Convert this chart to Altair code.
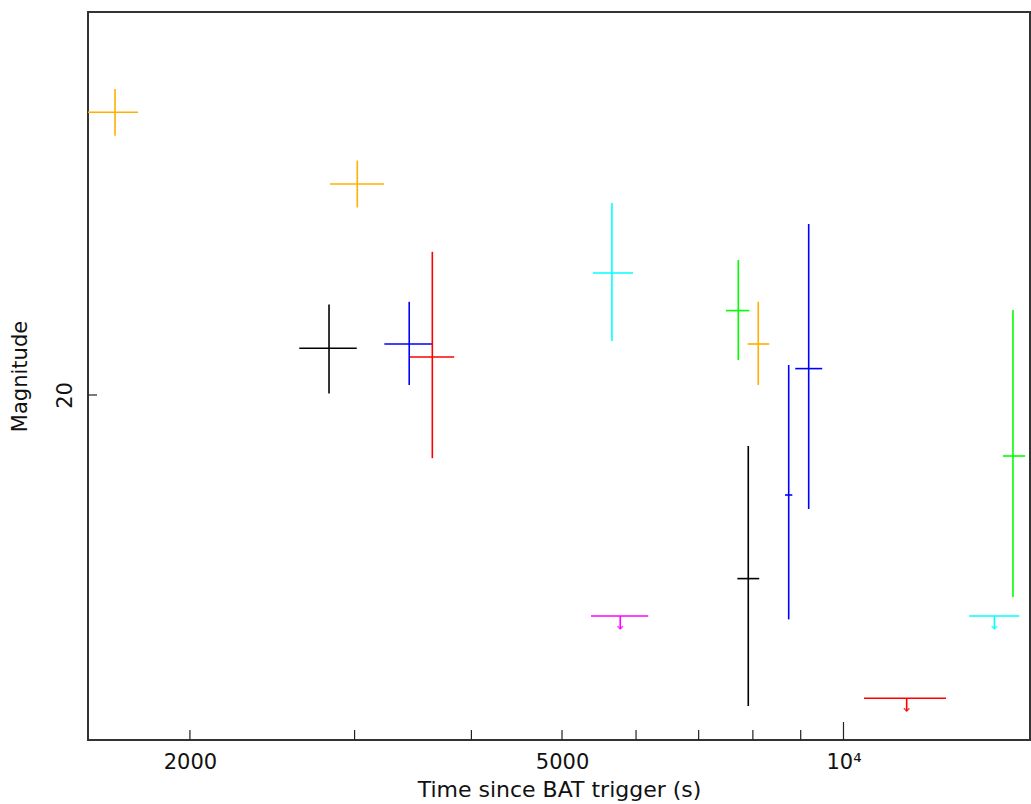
import altair as alt
import pandas as pd

# ---- detections (time in s, magnitude) ----
det_band = ["orange", "orange", "black", "blue", "red", "cyan", "green", "orange", "blue", "blue", "black", "green"]
det_t = [1663, 3020, 2817, 3432, 3633, 5654, 7718, 8107, 9179, 8738, 7910, 15180]
det_tlo = [1555, 2824, 2618, 3228, 3432, 5397, 7487, 7897, 8880, 8658, 7700, 14810]
det_thi = [1760, 3226, 3016, 3633, 3834, 5955, 7930, 8329, 9490, 8816, 8126, 15640]
det_mag = [19.293, 19.4725, 19.883, 19.8725, 19.905, 19.695, 19.789, 19.8725, 19.934, 20.25, 20.459, 20.1525]
det_maglo = [19.235, 19.414, 19.774, 19.767, 19.642, 19.52, 19.6625, 19.767, 19.5725, 19.925, 20.1275, 19.7875]
det_maghi = [19.352, 19.531, 19.996, 19.975, 20.158, 19.865, 19.9125, 19.975, 20.285, 20.561, 20.7775, 20.505]

# ---- upper limits ----
ul_band = ["magenta", "red", "cyan"]
ul_t = [5771, 11684, 14501]
ul_tlo = [5370, 10517, 13623]
ul_thi = [6183, 12873, 15417]
ul_mag = [20.5525, 20.758, 20.5525]
arrow_len = 0.032

# ---- axes ----
x_domain = [1556, 15830]
y_domain = [19.0425, 20.8625]
x_ticks = [2000, 3000, 4000, 5000, 6000, 7000, 8000, 9000]
x_major = [10000]
x_labels = [2000, 5000, 10000]
y_ticks = [20]

band_names = ["black", "blue", "red", "cyan", "green", "magenta", "orange"]
band_colors = ["#000000", "#0000FF", "#FF0000", "#00FFFF", "#00FF00", "#FF00FF", "#FFB000"]

FONT = "DejaVu Sans"

det = pd.DataFrame(dict(band=det_band, t=det_t, tlo=det_tlo, thi=det_thi,
                        mag=det_mag, maglo=det_maglo, maghi=det_maghi))
ul = pd.DataFrame(dict(band=ul_band, t=ul_t, tlo=ul_tlo, thi=ul_thi, mag=ul_mag))
ul["mag_end"] = ul["mag"] + arrow_len

xs = alt.Scale(type="log", domain=x_domain, nice=False, zero=False)
ys = alt.Scale(domain=y_domain, reverse=True, nice=False, zero=False)
cs = alt.Scale(domain=band_names, range=band_colors)

x_axis = alt.Axis(values=x_labels, ticks=False, grid=False, domain=False,
                  labelExpr="datum.value == 10000 ? '10⁴' : datum.value",
                  labelFont=FONT, labelFontSize=21, labelColor="#111111",
                  labelPadding=11, title="Time since BAT trigger (s)",
                  titleFont=FONT, titleFontSize=22, titleFontWeight="normal",
                  titleColor="#111111", titlePadding=7, labelFlush=False)
y_axis = alt.Axis(values=y_ticks, ticks=False, grid=False, domain=False,
                  labelExpr="format(datum.value, 'd')",
                  labelAngle=270, labelBaseline="middle", labelAlign="center",
                  labelFont=FONT, labelFontSize=21, labelColor="#111111",
                  labelPadding=23, title="Magnitude", titleFont=FONT,
                  titleFontSize=21, titleFontWeight="normal", titleColor="#111111",
                  titlePadding=24)

sw = 1.6
horiz = alt.Chart(det).mark_rule(strokeWidth=sw, clip=True).encode(
    x=alt.X("tlo:Q", scale=xs, axis=x_axis),
    x2="thi:Q",
    y=alt.Y("mag:Q", scale=ys, axis=y_axis),
    color=alt.Color("band:N", scale=cs, legend=None),
)
vert = alt.Chart(det).mark_rule(strokeWidth=sw, clip=True).encode(
    x=alt.X("t:Q", scale=xs),
    y=alt.Y("maglo:Q", scale=ys),
    y2="maghi:Q",
    color=alt.Color("band:N", scale=cs, legend=None),
)
ul_h = alt.Chart(ul).mark_rule(strokeWidth=sw, clip=True).encode(
    x=alt.X("tlo:Q", scale=xs), x2="thi:Q",
    y=alt.Y("mag:Q", scale=ys),
    color=alt.Color("band:N", scale=cs, legend=None),
)
ul_v = alt.Chart(ul).mark_rule(strokeWidth=sw, clip=True).encode(
    x=alt.X("t:Q", scale=xs),
    y=alt.Y("mag:Q", scale=ys), y2="mag_end:Q",
    color=alt.Color("band:N", scale=cs, legend=None),
)
ul_head = alt.Chart(ul).mark_point(shape="M -1 -1 L 0 0 L 1 -1", filled=False,
                                   size=30, strokeWidth=sw, clip=True).encode(
    x=alt.X("t:Q", scale=xs),
    y=alt.Y("mag_end:Q", scale=ys),
    color=alt.Color("band:N", scale=cs, legend=None),
)

tick_df = pd.DataFrame(dict(t=x_ticks))
xt = alt.Chart(tick_df).mark_rule(color="#222222", strokeWidth=1.2).encode(
    x=alt.X("t:Q", scale=xs), y=alt.value(718), y2=alt.value(728))
xt_major = alt.Chart(pd.DataFrame(dict(t=x_major))).mark_rule(color="#222222", strokeWidth=1.2).encode(
    x=alt.X("t:Q", scale=xs), y=alt.value(710), y2=alt.value(728))
yt = alt.Chart(pd.DataFrame(dict(m=y_ticks))).mark_rule(color="#222222", strokeWidth=1.2).encode(
    y=alt.Y("m:Q", scale=ys), x=alt.value(0), x2=alt.value(9))

chart = alt.layer(horiz, vert, ul_h, ul_v, ul_head, xt, xt_major, yt).properties(
    width=942, height=728,
    autosize=alt.AutoSizeParams(type="none"),
    padding={"left": 88, "top": 12, "right": 1, "bottom": 64},
    background="white",
).configure_view(stroke="#333333", strokeWidth=2)

chart.save("out.html", embed_options={"renderer": "svg", "actions": False})
